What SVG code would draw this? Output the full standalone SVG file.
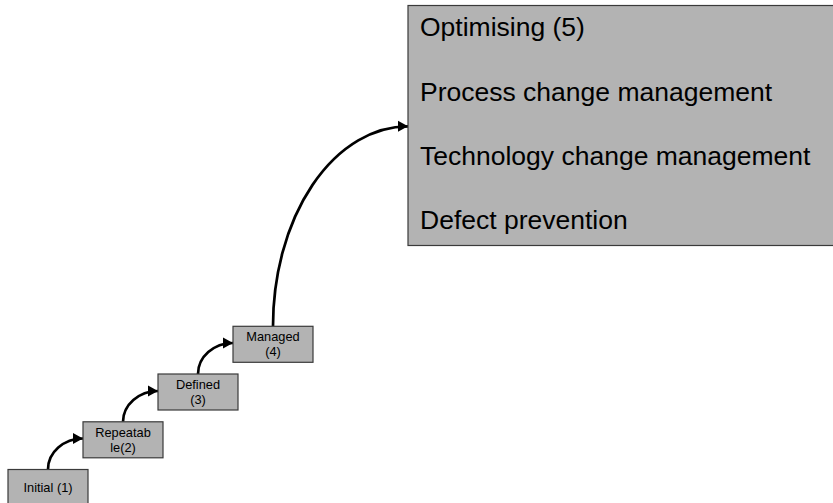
<svg xmlns="http://www.w3.org/2000/svg" width="833" height="503" viewBox="0 0 833 503">
<style>
.box{fill:#b3b3b3;stroke:#3a3a3a;stroke-width:1.2}
.s{font-family:"Liberation Sans",Arial,sans-serif;font-size:12.8px;fill:#000;text-anchor:middle}
.b{font-family:"Liberation Sans",Arial,sans-serif;font-size:26.5px;fill:#000}
.c{fill:none;stroke:#000;stroke-width:2.7}
</style>
<defs>
<marker id="ah" markerUnits="userSpaceOnUse" markerWidth="14" markerHeight="14" refX="11" refY="7" orient="auto">
<path d="M1,1.5 L11,7 L1,12.5 Z" fill="#000"/>
</marker>
</defs>
<rect width="833" height="503" fill="#fff"/>
<g id="connectors">
<path class="c" d="M48,469.5 A35 31 0 0 1 83,438.5" marker-end="url(#ah)"/>
<path class="c" d="M123,421.8 A35 31 0 0 1 158,391" marker-end="url(#ah)"/>
<path class="c" d="M198,374 A35 31 0 0 1 233,343" marker-end="url(#ah)"/>
<path class="c" d="M273,326.3 A135 200 0 0 1 408,126.3" marker-end="url(#ah)"/>
</g>
<g id="initial">
<rect class="box" x="8" y="469.5" width="80" height="40"/>
<text class="s" x="48" y="492">Initial (1)</text>
</g>
<g id="repeatable">
<rect class="box" x="83" y="421.8" width="80" height="36"/>
<text class="s" x="123" y="436.5">Repeatab</text>
<text class="s" x="123" y="451.8">le(2)</text>
</g>
<g id="defined">
<rect class="box" x="158" y="374" width="80" height="36"/>
<text class="s" x="198" y="388.5">Defined</text>
<text class="s" x="198" y="403.8">(3)</text>
</g>
<g id="managed">
<rect class="box" x="233" y="326.3" width="80" height="36"/>
<text class="s" x="273" y="340.5">Managed</text>
<text class="s" x="273" y="355.8">(4)</text>
</g>
<g id="optimising">
<rect class="box" x="408" y="5.5" width="440" height="240"/>
<text class="b" x="420" y="36">Optimising (5)</text>
<text class="b" x="420" y="101">Process change management</text>
<text class="b" x="420" y="165">Technology change management</text>
<text class="b" x="420" y="229">Defect prevention</text>
</g>
</svg>
